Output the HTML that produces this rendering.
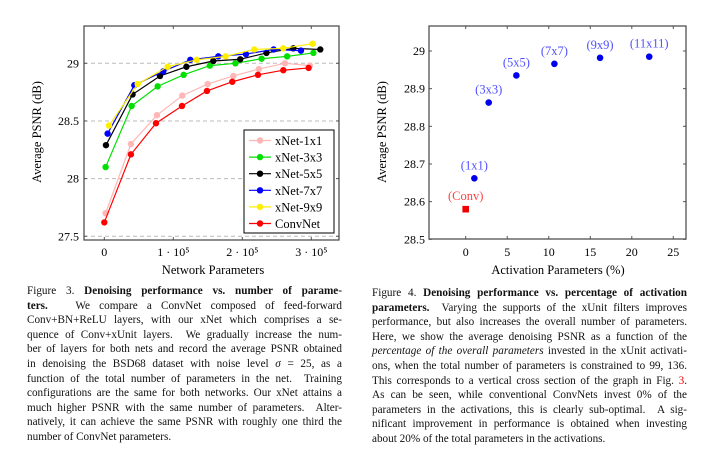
<!DOCTYPE html>
<html><head><meta charset="utf-8">
<style>
html,body{margin:0;padding:0;background:#fff;}
body{width:708px;height:453px;position:relative;overflow:hidden;font-family:"Liberation Serif",serif;}
svg{position:absolute;left:0;top:0;}
.cap{position:absolute;font-size:11.2px;line-height:14.6px;color:#111;}
.cap div{text-align:justify;text-align-last:justify;white-space:nowrap;height:14.6px;}
.cap div.last{text-align-last:left;}
</style></head><body>
<svg id="chart" width="708" height="453" xmlns="http://www.w3.org/2000/svg" font-family="Liberation Serif, serif"></svg>

<div class="cap" style="left:27px;top:284px;width:315px;">
<div>Figure 3. <b>Denoising performance vs. number of parame-</b></div>
<div><b>ters.</b> &nbsp;&nbsp;We compare a ConvNet composed of feed-forward</div>
<div>Conv+BN+ReLU layers, with our xNet which comprises a se-</div>
<div>quence of Conv+xUnit layers. &nbsp;We gradually increase the num-</div>
<div>ber of layers for both nets and record the average PSNR obtained</div>
<div>in denoising the BSD68 dataset with noise level <i>σ</i> = 25, as a</div>
<div>function of the total number of parameters in the net. &nbsp;Training</div>
<div>configurations are the same for both networks. Our xNet attains a</div>
<div>much higher PSNR with the same number of parameters. &nbsp;Alter-</div>
<div>natively, it can achieve the same PSNR with roughly one third the</div>
<div class="last">number of ConvNet parameters.</div>
</div>

<div class="cap" style="left:372px;top:286px;width:315px;">
<div>Figure 4. <b>Denoising performance vs. percentage of activation</b></div>
<div><b>parameters.</b> &nbsp;Varying the supports of the xUnit filters improves</div>
<div>performance, but also increases the overall number of parameters.</div>
<div>Here, we show the average denoising PSNR as a function of the</div>
<div><i>percentage of the overall parameters</i> invested in the xUnit activati-</div>
<div>ons, when the total number of parameters is constrained to 99, 136.</div>
<div>This corresponds to a vertical cross section of the graph in Fig. <span style="color:#e00">3</span>.</div>
<div>As can be seen, while conventional ConvNets invest 0% of the</div>
<div>parameters in the activations, this is clearly sub-optimal. &nbsp;A sig-</div>
<div>nificant improvement in performance is obtained when investing</div>
<div class="last">about 20% of the total parameters in the activations.</div>
</div>

<script>
// ---- Figure 3 data ----
const seriesNames = ["xNet-1x1","xNet-3x3","xNet-5x5","xNet-7x7","xNet-9x9","ConvNet"];
const seriesColors = ["#ffb6b6","#00e000","#000000","#0000ff","#ffee00","#ff0000"];
const x1x1 = [0.019,0.386,0.763,1.13,1.498,1.87,2.24,2.618,2.98];
const y1x1 = [27.70,28.30,28.55,28.72,28.82,28.89,28.95,29.00,28.98];
const x3x3 = [0.019,0.396,0.773,1.15,1.53,1.90,2.28,2.65,3.03];
const y3x3 = [28.10,28.63,28.80,28.90,28.98,29.00,29.04,29.06,29.09];
const x5x5 = [0.024,0.41,0.807,1.19,1.58,1.97,2.35,2.74,3.13];
const y5x5 = [28.29,28.73,28.89,28.97,29.02,29.035,29.09,29.13,29.12];
const x7x7 = [0.048,0.435,0.855,1.246,1.652,2.053,2.454,2.85];
const y7x7 = [28.39,28.81,28.93,29.03,29.06,29.08,29.12,29.11];
const x9x9 = [0.068,0.483,0.918,1.338,1.758,2.174,2.594,3.019];
const y9x9 = [28.46,28.82,28.97,29.03,29.06,29.12,29.13,29.17];
const xConv = [0,0.386,0.749,1.126,1.488,1.855,2.227,2.594,2.961];
const yConv = [27.62,28.21,28.48,28.63,28.76,28.84,28.90,28.94,28.96];
const leftYTicks = [27.5,28,28.5,29];
const leftYTickLabels = ["27.5","28","28.5","29"];
const leftXTicks = [0,1,2,3];
const leftXTickLabels = ["0","1 · 10⁵","2 · 10⁵","3 · 10⁵"];

// ---- Figure 4 data ----
const actLabels = ["(1x1)","(3x3)","(5x5)","(7x7)","(9x9)","(11x11)"];
const actX = [1.04,2.77,6.1,10.68,16.18,22.1];
const actY = [28.662,28.863,28.935,28.966,28.982,28.985];
const convLabel = "(Conv)";
const convX = [0];
const convY = [28.58];
const rightYTicks = [28.5,28.6,28.7,28.8,28.9,29];
const rightYTickLabels = ["28.5","28.6","28.7","28.8","28.9","29"];
const rightXTicks = [0,5,10,15,20,25];

const NS="http://www.w3.org/2000/svg";
const svg=document.getElementById('chart');
function mk(tag,attrs,parent){const e=document.createElementNS(NS,tag);for(const k in attrs)e.setAttribute(k,attrs[k]);(parent||svg).appendChild(e);return e;}

// Left axes
const L={x0:84,x1:339,y0:26,y1:240};
const lx=v=>104.3+v*69.0;
const ly=v=>63.3+(29-v)*115.3;
const gL=mk('g',{});


leftYTicks.forEach((t,i)=>{
  const g=mk('line',{x1:L.x0,x2:L.x1,y1:ly(t),y2:ly(t),stroke:'#bbb','stroke-dasharray':'4,3','stroke-width':1},gL);
  
  
  mk('line',{x1:L.x0,x2:L.x0+3,y1:ly(t),y2:ly(t),stroke:'#555'},gL);
  mk('line',{x1:L.x1,x2:L.x1-3,y1:ly(t),y2:ly(t),stroke:'#555'},gL);
  const tx=mk('text',{x:79,y:ly(t)+4,'text-anchor':'end','font-size':12},gL);
  tx.textContent=leftYTickLabels[i];
  
  
});
leftXTicks.forEach((t,i)=>{
  mk('line',{x1:lx(t),x2:lx(t),y1:L.y1,y2:L.y1-3,stroke:'#555'},gL);
  mk('line',{x1:lx(t),x2:lx(t),y1:L.y0,y2:L.y0+3,stroke:'#555'},gL);
  const tx=mk('text',{x:lx(t),y:256,'text-anchor':'middle','font-size':12},gL);
  tx.textContent=leftXTickLabels[i];
  
  
});
const fr=mk('rect',{x:L.x0,y:L.y0,width:L.x1-L.x0,height:L.y1-L.y0,fill:'none',stroke:'#444','stroke-width':1.2},gL);


const yt=mk('text',{x:0,y:0,'text-anchor':'middle','font-size':12.5,transform:'translate(41,132) rotate(-90)'},gL);
yt.textContent='Average PSNR (dB)';


const xt=mk('text',{x:213,y:274,'text-anchor':'middle','font-size':12.5},gL);
xt.textContent='Network Parameters';



const allX=[x1x1,x3x3,x5x5,x7x7,x9x9,xConv];
const allY=[y1x1,y3x3,y5x5,y7x7,y9x9,yConv];
const order=[0,1,2,3,4,5];
order.forEach(s=>{
  const xs=allX[s],ys=allY[s],c=seriesColors[s];
  const pl=mk('polyline',{points:xs.map((v,i)=>lx(v)+','+ly(ys[i])).join(' '),fill:'none',stroke:c,'stroke-width':1.2},gL);
  
  
  xs.forEach((v,i)=>{
    const p=mk('circle',{cx:lx(v),cy:ly(ys[i]),r:3.2,fill:c},gL);
    
    
  });
});
// legend
const lg=mk('g',{},gL);


mk('rect',{x:244,y:130,width:90,height:103,fill:'#fff',stroke:'#000','stroke-width':1},lg);
seriesNames.forEach((n,i)=>{
  const yy=140.5+i*16.6;
  const e=mk('g',{},lg);
  
  
  mk('line',{x1:249,x2:271,y1:yy,y2:yy,stroke:seriesColors[i],'stroke-width':1.2},e);
  mk('circle',{cx:260,cy:yy,r:3.2,fill:seriesColors[i]},e);
  const t=mk('text',{x:275,y:yy+4.5,'font-size':12.5},e);
  t.textContent=n;
});

// Right axes
const R={x0:429,x1:686,y0:26,y1:239};
const rx=v=>465.7+v*8.304;
const ry=v=>239.3-(v-28.5)*376.6;
const gR=mk('g',{});


rightYTicks.forEach((t,i)=>{
  mk('line',{x1:R.x0,x2:R.x0+3,y1:ry(t),y2:ry(t),stroke:'#555'},gR);
  mk('line',{x1:R.x1,x2:R.x1-3,y1:ry(t),y2:ry(t),stroke:'#555'},gR);
  const tx=mk('text',{x:425,y:ry(t)+4,'text-anchor':'end','font-size':12},gR);
  tx.textContent=rightYTickLabels[i];
  
  
});
rightXTicks.forEach(t=>{
  mk('line',{x1:rx(t),x2:rx(t),y1:R.y1,y2:R.y1-3,stroke:'#555'},gR);
  mk('line',{x1:rx(t),x2:rx(t),y1:R.y0,y2:R.y0+3,stroke:'#555'},gR);
  const tx=mk('text',{x:rx(t),y:256,'text-anchor':'middle','font-size':12},gR);
  tx.textContent=String(t);
  
  
});
const fr2=mk('rect',{x:R.x0,y:R.y0,width:R.x1-R.x0,height:R.y1-R.y0,fill:'none',stroke:'#444','stroke-width':1.2},gR);


const yt2=mk('text',{x:0,y:0,'text-anchor':'middle','font-size':12.5,transform:'translate(386,132) rotate(-90)'},gR);
yt2.textContent='Average PSNR (dB)';


const xt2=mk('text',{x:558,y:274,'text-anchor':'middle','font-size':12.5},gR);
xt2.textContent='Activation Parameters (%)';


actX.forEach((v,i)=>{
  const p=mk('circle',{cx:rx(v),cy:ry(actY[i]),r:3.3,fill:'#0000ee'},gR);
  
  
  const t=mk('text',{x:rx(v),y:ry(actY[i])-9,'text-anchor':'middle','font-size':12.5,fill:'#5050ff'},gR);
  t.textContent=actLabels[i];
  
  
});
convX.forEach((v,i)=>{
  const p=mk('rect',{x:rx(v)-3.3,y:ry(convY[i])-3.3,width:6.6,height:6.6,fill:'#ee0000'},gR);
  
  
  const t=mk('text',{x:rx(v),y:ry(convY[i])-9,'text-anchor':'middle','font-size':12.5,fill:'#ff4040'},gR);
  t.textContent=convLabel;
  
  
});
</script>
</body></html>
